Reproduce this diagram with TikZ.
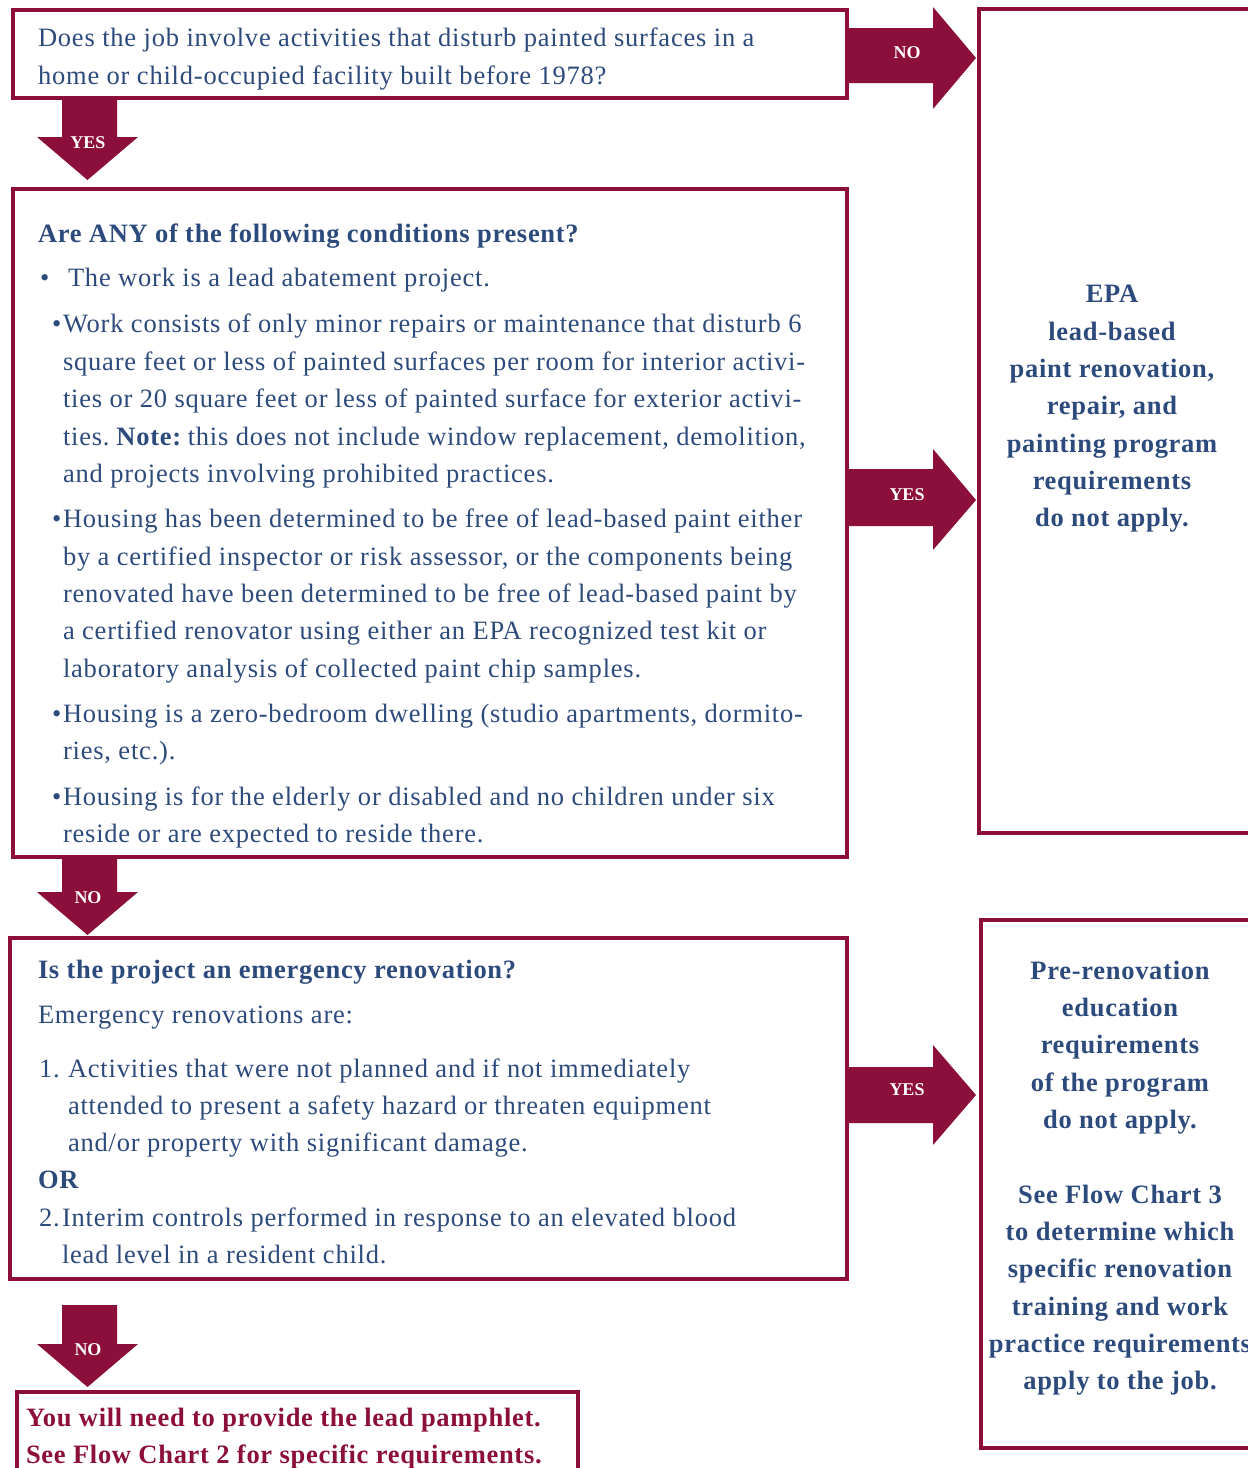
\documentclass[tikz,border=0pt]{standalone}
\usepackage{fontspec}
\setmainfont{Liberation Serif}[LetterSpace=3.0, BoldFeatures={LetterSpace=2.7}]
\newfontfamily\lblfont{Liberation Serif}
\definecolor{maroon}{RGB}{140,14,58}
\definecolor{navy}{RGB}{45,74,124}
\tikzset{
  box/.style={draw=maroon, line width=4pt, rectangle, inner sep=0pt, outer sep=0pt, anchor=north west},
  txt/.style={inner sep=0pt, outer sep=0pt, text=navy, font=\fontsize{26.5}{30}\selectfont},
  btxt/.style={txt, font=\fontsize{26.5}{30}\selectfont\bfseries},
  rtxt/.style={txt, text=maroon, font=\fontsize{26.5}{30}\selectfont\bfseries},
  lbl/.style={inner sep=0pt, text=white, font=\lblfont\fontsize{18}{20}\selectfont\bfseries},
  blk/.style={fill=maroon, draw=none}
}
\newcommand{\tl}[5][txt]{\node[#1, anchor=base west] (#2) at (#3,#4) {#5};}
\newcommand{\tc}[5][btxt]{\node[#1, anchor=base] (#2) at (#3,#4) {#5};}
\begin{document}
\begin{tikzpicture}[x=1pt,y=-1pt]
\useasboundingbox (0,0) rectangle (1248,1468);
% boxes
\node[box, minimum width=834pt, minimum height=88pt] (q1) at (13,10) {};
\node[box, minimum width=834pt, minimum height=668pt] (q2) at (13,189) {};
\node[box, minimum width=837pt, minimum height=341pt] (q3) at (10,938) {};
\node[box, minimum width=300pt, minimum height=824pt] (r1) at (979,9) {};
\node[box, minimum width=300pt, minimum height=528pt] (r2) at (981,920) {};
\node[box, minimum width=561pt, minimum height=120pt] (r3) at (17,1392) {};
% block arrows
\fill[blk] (62,100) -- (117,100) -- (117,137) -- (138,137) -- (87.5,180) -- (37,137) -- (62,137) -- cycle;
\node[lbl] (a1) at (88,143) {YES};
\fill[blk] (62,859) -- (117,859) -- (117,892) -- (138,892) -- (87.5,935) -- (37,892) -- (62,892) -- cycle;
\node[lbl] (a2) at (88,898) {NO};
\fill[blk] (62,1305) -- (117,1305) -- (117,1344) -- (138,1344) -- (87.5,1387) -- (37,1344) -- (62,1344) -- cycle;
\node[lbl] (a3) at (88,1350) {NO};
\fill[blk] (849,28) -- (933,28) -- (933,7) -- (976,58) -- (933,109) -- (933,83) -- (849,83) -- cycle;
\node[lbl] (a4) at (907,53) {NO};
\fill[blk] (849,469) -- (933,469) -- (933,449) -- (976,500) -- (933,550) -- (933,526) -- (849,526) -- cycle;
\node[lbl] (a5) at (907,495) {YES};
\fill[blk] (849,1067) -- (933,1067) -- (933,1045) -- (976,1095) -- (933,1145) -- (933,1123) -- (849,1123) -- cycle;
\node[lbl] (a6) at (907,1090) {YES};
% box 1
\tl{t1}{38}{46}{Does the job involve activities that disturb painted surfaces in a}
\tl{t2}{38}{84}{home or child-occupied facility built before 1978?}
% box 2
\tl[btxt]{h2}{38}{242}{Are ANY of the following conditions present?}
\tl{b1}{40}{286}{•}
\tl{c1}{68}{286}{The work is a lead abatement project.}
\tl{b2}{52}{332}{•}
\tl{c2}{63}{332}{Work consists of only minor repairs or maintenance that disturb 6}
\tl{c3}{63}{370}{square feet or less of painted surfaces per room for interior activi-}
\tl{c4}{63}{407}{ties or 20 square feet or less of painted surface for exterior activi-}
\tl{c5}{63}{445}{ties.\hspace{-3pt} \textbf{Note:}\hspace{-4pt} this does not include window replacement, demolition,}
\tl{c6}{63}{482}{and projects involving prohibited practices.}
\tl{b3}{52}{527}{•}
\tl{c7}{63}{527}{Housing has been determined to be free of lead-based paint either}
\tl{c8}{63}{565}{by a certified inspector or risk assessor, or the components being}
\tl{c9}{63}{602}{renovated have been determined to be free of lead-based paint by}
\tl{c10}{63}{639}{a certified renovator using either an EPA recognized test kit or}
\tl{c11}{63}{677}{laboratory analysis of collected paint chip samples.}
\tl{b4}{52}{722}{•}
\tl{c12}{63}{722}{Housing is a zero-bedroom dwelling (studio apartments, dormito-}
\tl{c13}{63}{759}{ries, etc.).}
\tl{b5}{52}{805}{•}
\tl{c14}{63}{805}{Housing is for the elderly or disabled and no children under six}
\tl{c15}{63}{842}{reside or are expected to reside there.}
% box 3
\tl[btxt]{h3}{38}{978}{Is the project an emergency renovation?}
\tl{e1}{38}{1023}{Emergency renovations are:}
\tl{n1}{39}{1077}{1.}
\tl{e2}{68}{1077}{Activities that were not planned and if not immediately}
\tl{e3}{68}{1114}{attended to present a safety hazard or threaten equipment}
\tl{e4}{68}{1151}{and/or property with significant damage.}
\tl[btxt]{or}{38}{1188}{OR}
\tl{n2}{39}{1226}{2.}
\tl{e5}{62}{1226}{Interim controls performed in response to an elevated blood}
\tl{e6}{62}{1263}{lead level in a resident child.}
% right box 1
\tc{r11}{1112}{302}{EPA}
\tc{r12}{1112}{340}{lead-based}
\tc{r13}{1112}{377}{paint renovation,}
\tc{r14}{1112}{414}{repair, and}
\tc{r15}{1112}{452}{painting program}
\tc{r16}{1112}{489}{requirements}
\tc{r17}{1112}{526}{do not apply.}
% right box 2
\tc{r21}{1120}{979}{Pre-renovation}
\tc{r22}{1120}{1016}{education}
\tc{r23}{1120}{1053}{requirements}
\tc{r24}{1120}{1091}{of the program}
\tc{r25}{1120}{1128}{do not apply.}
\tc{r26}{1120}{1203}{See Flow Chart 3}
\tc{r27}{1120}{1240}{to determine which}
\tc{r28}{1120}{1277}{specific renovation}
\tc{r29}{1120}{1315}{training and work}
\tc{r210}{1120}{1352}{practice requirements}
\tc{r211}{1120}{1389}{apply to the job.}
% bottom box
\tl[rtxt]{f1}{26}{1426}{You will need to provide the lead pamphlet.}
\tl[rtxt]{f2}{26}{1463}{See Flow Chart 2 for specific requirements.}
\end{tikzpicture}
\end{document}
